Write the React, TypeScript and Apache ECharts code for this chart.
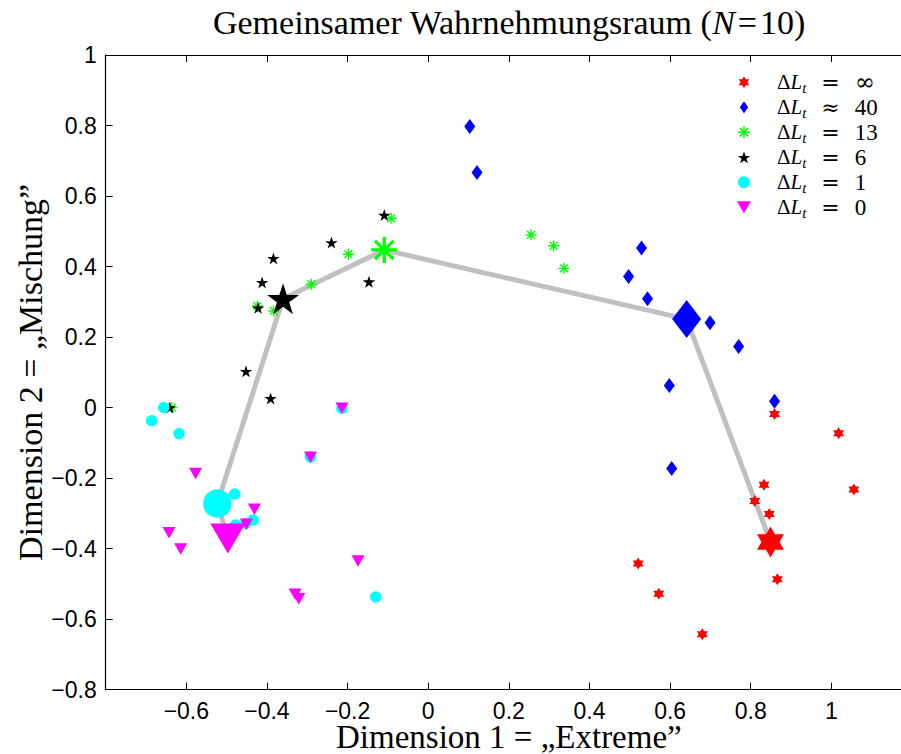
import React, { useEffect, useRef } from 'react';
import * as echarts from 'echarts';

// ---- data ----
const groupNames = ['ΔL_t = ∞', 'ΔL_t ≈ 40', 'ΔL_t = 13', 'ΔL_t = 6', 'ΔL_t = 1', 'ΔL_t = 0'];
const groupColors = ['#ff0000', '#0000ff', '#00ff00', '#000000', '#00ffff', '#ff00ff'];

const redPoints = [[0.859, -0.018], [1.018, -0.073], [1.056, -0.232], [0.833, -0.219], [0.810, -0.265], [0.846, -0.302], [0.866, -0.487], [0.521, -0.442], [0.572, -0.528], [0.680, -0.643]];
const bluePoints = [[0.103, 0.797], [0.121, 0.667], [0.529, 0.453], [0.497, 0.372], [0.544, 0.309], [0.699, 0.241], [0.770, 0.173], [0.598, 0.063], [0.859, 0.018], [0.604, -0.173]];
const greenPoints = [[0.255, 0.490], [0.311, 0.459], [0.337, 0.395], [-0.198, 0.435], [-0.290, 0.350], [-0.383, 0.274], [-0.424, 0.288], [-0.092, 0.537], [-0.636, 0.0]];
const blackPoints = [[-0.240, 0.468], [-0.384, 0.423], [-0.412, 0.355], [-0.422, 0.283], [-0.147, 0.357], [-0.452, 0.103], [-0.391, 0.026], [-0.641, 0.0], [-0.109, 0.546]];
const cyanPoints = [[-0.656, 0.0], [-0.686, -0.037], [-0.618, -0.074], [-0.480, -0.245], [-0.434, -0.319], [-0.453, -0.329], [-0.478, -0.333], [-0.214, -0.002], [-0.292, -0.140], [-0.130, -0.537]];
const magentaPoints = [[-0.577, -0.187], [-0.643, -0.355], [-0.614, -0.401], [-0.431, -0.288], [-0.451, -0.331], [-0.214, -0.002], [-0.292, -0.141], [-0.174, -0.435], [-0.330, -0.529], [-0.321, -0.542]];

// group centroids (order: ∞, ≈40, 13, 6, 1, 0)
const centroidX = [0.849, 0.641, -0.109, -0.360, -0.523, -0.497];
const centroidY = [-0.381, 0.251, 0.447, 0.309, -0.272, -0.371];

const xTicks = { min: -0.8, max: 1.2, step: 0.2 };
const yTicks = { min: -0.8, max: 1.0, step: 0.2 };

// ---- marker shapes ----
function starPath(n: number, rOuter: number, rInner: number, startDeg: number) {
  const pts: string[] = [];
  for (let i = 0; i < 2 * n; i++) {
    const r = i % 2 === 0 ? rOuter : rInner;
    const a = ((startDeg + (i * 180) / n) * Math.PI) / 180;
    pts.push(`${(r * Math.cos(a)).toFixed(4)},${(r * Math.sin(a)).toFixed(4)}`);
  }
  return 'path://M' + pts.join(' L') + ' Z';
}
function asteriskPath(hw: number) {
  const parts: string[] = [];
  [0, 45, 90, 135].forEach((deg) => {
    const a = (deg * Math.PI) / 180;
    const c = Math.cos(a);
    const s = Math.sin(a);
    const corners = [[-1, -hw], [1, -hw], [1, hw], [-1, hw]].map(([u, v]) => [u * c - v * s, u * s + v * c]);
    parts.push('M' + corners.map((p) => p[0].toFixed(4) + ',' + p[1].toFixed(4)).join(' L') + ' Z');
  });
  return 'path://' + parts.join(' ');
}
const hexagram = starPath(6, 1, 0.57735, -90);
const pentagram = starPath(5, 1, 0.382, -90);
const asterisk = asteriskPath(0.125);
const diamond = 'path://M0,-1 L0.7,0 L0,1 L-0.7,0 Z';
const triangleDown = 'path://M-1,0 L1,0 L0,1.7 Z';

const symbols = [hexagram, diamond, asterisk, pentagram, 'circle', triangleDown];
const smallSizes = [[11, 12], [11, 15], [11, 11], [12.5, 12], [11.5, 11.5], [13, 11.5]];
const bigSizes = [[27, 31], [29, 38], [26, 26], [32, 31], [28.5, 28.5], [35, 30]];
const pointSets = [redPoints, bluePoints, greenPoints, blackPoints, cyanPoints, magentaPoints];

const fmtNum = (v: number) => String(Math.round(v * 10) / 10).replace('-', '\u2212');

function buildOption() {
  const lineOrder = [5, 4, 3, 2, 1, 0];
  const lineData = lineOrder.map((i) => [centroidX[i], centroidY[i]]);

  const scatterSeries = pointSets.map((pts, gi) => ({
    type: 'scatter',
    name: groupNames[gi],
    xAxisIndex: 0,
    yAxisIndex: 0,
    symbol: symbols[gi],
    symbolSize: smallSizes[gi],
    itemStyle: { color: groupColors[gi], opacity: 1 },
    z: 3,
    silent: true,
    data: [
      ...pts.map((p) => [p[0], p[1]]),
      { value: [centroidX[gi], centroidY[gi]], symbolSize: bigSizes[gi] },
    ],
  }));

  const serif = 'Liberation Serif';
  const tokenBase = { color: '#000', fontFamily: serif, fontSize: 21, lineHeight: 22 };

  return {
    animation: false,
    backgroundColor: '#fff',
    title: {
      text: '{a|Gemeinsamer Wahrnehmungsraum (}{i|N}{e|=}{a|10)}',
      left: 509,
      top: 5,
      padding: 0,
      textAlign: 'center',
      textStyle: {
        color: '#000',
        fontFamily: serif,
        fontSize: 34,
        fontWeight: 'normal',
        rich: {
          a: { color: '#000', fontFamily: serif, fontSize: 34 },
          i: { color: '#000', fontFamily: serif, fontSize: 34, fontStyle: 'italic' },
          e: { color: '#000', fontFamily: serif, fontSize: 34, padding: [0, 3, 0, 3] },
        },
      },
    },
    legend: {
      orient: 'vertical',
      left: 737,
      top: 70.3,
      padding: 0,
      itemWidth: 14,
      itemHeight: 12,
      itemGap: 0.5,
      symbolKeepAspect: true,
      selectedMode: false,
      data: groupNames,
      formatter: (name: string) => {
        const m = name.match(/^ΔL_t ([=≈]) (.+)$/);
        const op = m ? m[1] : '=';
        const val = m ? m[2] : '';
        return `{d|Δ}{l|L}{t|t}{op|${op}}{${val === '∞' ? 'inf' : 'v'}|${val}}`;
      },
      textStyle: {
        ...tokenBase,
        rich: {
          d: { ...tokenBase, padding: [0, 0, 0, 21] },
          l: { ...tokenBase, fontStyle: 'italic' },
          t: { ...tokenBase, fontStyle: 'italic', fontSize: 15, lineHeight: 11, height: 11, verticalAlign: 'bottom' },
          op: { ...tokenBase, fontFamily: 'DejaVu Serif', fontSize: 22, padding: [0, 15, 0, 15] },
          v: { ...tokenBase, fontSize: 23 },
          inf: { ...tokenBase, fontFamily: 'DejaVu Serif', fontSize: 24 },
        },
      },
    },
    grid: {
      left: 105.7,
      top: 55,
      right: -11,
      bottom: 64.3,
      containLabel: false,
      outerBoundsMode: 'none',
    },
    xAxis: [
      {
        type: 'value',
        position: 'bottom',
        min: xTicks.min,
        max: xTicks.max,
        interval: xTicks.step,
        name: 'Dimension 1 = \u201EExtreme\u201D',
        nameLocation: 'middle',
        nameGap: 33,
        nameMoveOverlap: false,
        nameTextStyle: { color: '#000', fontFamily: serif, fontSize: 33, lineHeight: 28 },
        axisLine: { show: true, onZero: false, lineStyle: { color: '#000', width: 1.2 } },
        axisTick: { show: true, inside: true, length: 7, lineStyle: { color: '#000', width: 1 } },
        axisLabel: {
          color: '#000',
          fontFamily: 'Liberation Sans',
          fontSize: 23,
          margin: 10,
          showMinLabel: true,
          showMaxLabel: true,
          formatter: (v: number) => (v < xTicks.min + 1e-6 || v > 1.1 ? '' : fmtNum(v)),
        },
        splitLine: { show: false },
      },
      {
        type: 'value',
        position: 'top',
        min: xTicks.min,
        max: xTicks.max,
        interval: xTicks.step,
        axisLine: { show: true, onZero: false, lineStyle: { color: '#000', width: 1.2 } },
        axisTick: { show: true, inside: true, length: 7, lineStyle: { color: '#000', width: 1 } },
        axisLabel: { show: false },
        splitLine: { show: false },
      },
    ],
    yAxis: [
      {
        type: 'value',
        position: 'left',
        min: yTicks.min,
        max: yTicks.max,
        interval: yTicks.step,
        name: 'Dimension 2 = \u201EMischung\u201D',
        nameLocation: 'middle',
        nameGap: 60,
        nameMoveOverlap: false,
        nameTextStyle: { color: '#000', fontFamily: serif, fontSize: 34, lineHeight: 30 },
        axisLine: { show: true, onZero: false, lineStyle: { color: '#000', width: 1.2 } },
        axisTick: { show: true, inside: true, length: 7, lineStyle: { color: '#000', width: 1 } },
        axisLabel: {
          color: '#000',
          fontFamily: 'Liberation Sans',
          fontSize: 23,
          margin: 9,
          showMinLabel: true,
          showMaxLabel: true,
          formatter: (v: number) => fmtNum(v),
        },
        splitLine: { show: false },
      },
    ],
    series: [
      {
        type: 'line',
        name: 'centroids',
        data: lineData,
        symbol: 'none',
        z: 2,
        silent: true,
        lineStyle: { color: '#c0c0c0', width: 5 },
      },
      ...scatterSeries,
    ],
  };
}

export default function App() {
  const ref = useRef<HTMLDivElement>(null);
  useEffect(() => {
    if (!ref.current) return;
    const chart = echarts.init(ref.current, null, { renderer: 'svg' });
    chart.setOption(buildOption() as any);
    return () => chart.dispose();
  }, []);
  return (
    <div
      ref={ref}
      style={{ position: 'absolute', left: 0, top: 0, width: 901, height: 754, background: '#fff' }}
    />
  );
}
